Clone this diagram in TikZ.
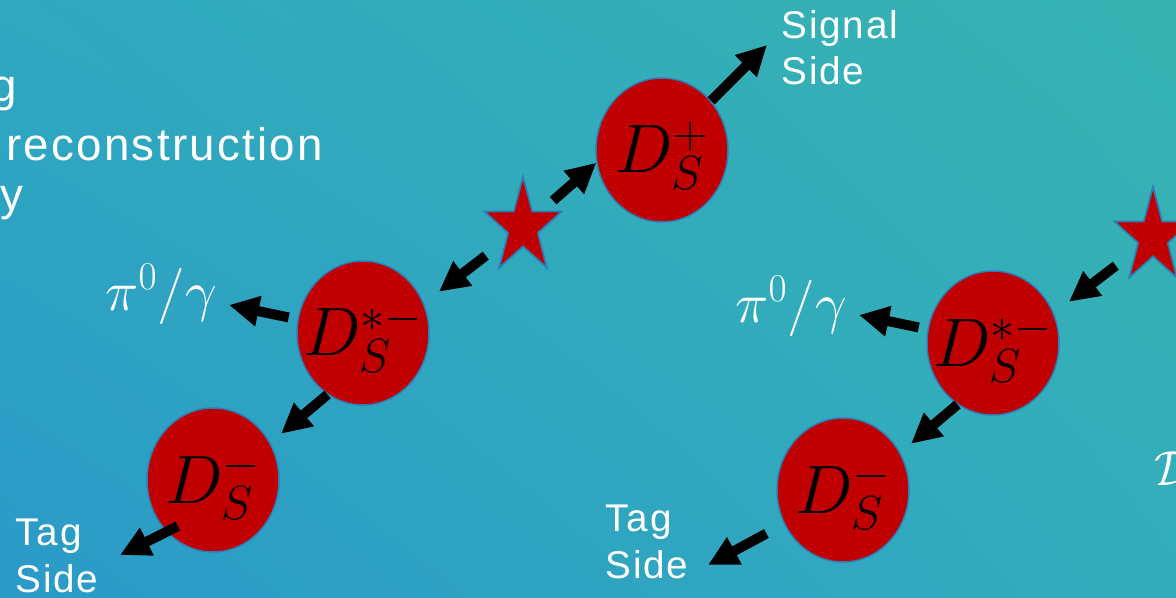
\RequirePackage{fix-cm}
\documentclass[tikz,border=0pt]{standalone}
\usepackage[no-math]{fontspec}
\newfontfamily\slidefont[LetterSpace=5]{Liberation Sans}
\usetikzlibrary{arrows.meta,shapes.geometric,shadings}
\definecolor{mesonred}{HTML}{C00000}
\definecolor{rimblue}{HTML}{2E7BB5}
\definecolor{bgUL}{HTML}{2FA8C0}
\definecolor{bgUR}{HTML}{37B4B1}
\definecolor{bgLL}{HTML}{2A9AC8}
\definecolor{bgLR}{HTML}{33ADBC}
\newcommand{\Dmeson}[1]{\smash{\raisebox{-0.46cm}{\makebox[0pt]{$D_S^{#1}$}}}}

\begin{document}
\begin{tikzpicture}[
  x=0.02cm, y=0.02cm,
  >={Triangle[length=0.6cm,width=0.58cm]},
  meson/.style={
    ellipse, draw=rimblue, line width=0.03cm, fill=mesonred,
    minimum width=2.64cm, minimum height=2.88cm, inner sep=0pt,
    font=\fontsize{39}{40}\selectfont
  },
  vertex/.style={
    star, star points=5, star point ratio=2.6,
    draw=rimblue, line width=0.035cm, fill=mesonred,
    minimum size=1.62cm, inner sep=0pt, yscale=1.24, transform shape
  },
  lbl/.style={
    text=white, align=left, inner sep=0pt, anchor=north west,
    font=\slidefont\fontsize{22}{26.5}\selectfont
  },
  body/.style={text=white, inner sep=0pt, font=\slidefont\fontsize{26}{30}\selectfont},
  photon/.style={text=white, inner sep=0pt, anchor=base west, font=\fontsize{32}{34}\selectfont},
  arr/.style={->, line width=0.2cm}
]
  \useasboundingbox (0,-598) rectangle (1176,0);
  \clip (0,-598) rectangle (1176,0);
  \shade[upper left=bgUL, upper right=bgUR, lower left=bgLL, lower right=bgLR]
    (0,-598) rectangle (1176,0);

  % slide text cut at the left edge
  \node[body, anchor=base east] (txtg) at (17,-102) {g};
  \node[body, anchor=base west] (txtreco) at (6,-160) {reconstruction};
  \node[body, anchor=base east] (txty) at (24,-210) {y};

  % left decay chain
  \node[vertex] (star1) at (523,-227) {};
  \node[meson] (dsp) at (662,-150) {\Dmeson{+}};
  \node[meson] (dsstl) at (363,-333) {\Dmeson{*-}};
  \node[meson] (dsl) at (213,-480) {\Dmeson{-}};

  \node[lbl] (sig) at (781,-10) {Signal\\Side};
  \node[lbl] (tagl) at (15,-519) {Tag\\Side};
  \node[photon] (pil) at (105,-310) {$\pi^0/\gamma$};

  % right decay chain
  \node[vertex] (star2) at (1153,-237) {};
  \node[meson] (dsstr) at (993,-343) {\Dmeson{*-}};
  \node[meson] (dsr) at (843,-490) {\Dmeson{-}};

  \node[lbl] (tagr) at (605,-505) {Tag\\Side};
  \node[photon] (pir) at (735,-322) {$\pi^0/\gamma$};
  \node[photon, font=\fontsize{28}{30}\selectfont] (calD) at (1154,-485) {$\mathcal{D}$};

  \coordinate (sigtip) at (767,-45);
  \coordinate (pitipl) at (229,-305);
  \coordinate (pitipr) at (859,-315);
  \coordinate (tagtipl) at (120,-555);
  \coordinate (tagtipr) at (708,-565);

  % arrows
  \draw[arr, shorten <=0.8cm] (star1.center) -- (dsp.191);
  \draw[arr] (dsp) -- (sigtip);
  \draw[arr, shorten <=0.94cm, shorten >=0.38cm] (star1.center) -- (dsstl.26);
  \draw[arr, shorten <=0.18cm] (dsstl) -- (pitipl);
  \draw[arr, shorten >=0.28cm] (dsstl.240) -- (dsl.33);
  \draw[arr, shorten <=-0.26cm] (dsl.228) -- (tagtipl);

  \draw[arr, shorten <=0.94cm, shorten >=0.38cm] (star2.center) -- (dsstr.26);
  \draw[arr, shorten <=0.18cm] (dsstr) -- (pitipr);
  \draw[arr, shorten >=0.28cm] (dsstr.240) -- (dsr.33);
  \draw[arr, shorten <=0.4cm] (dsr.210) -- (tagtipr);
\end{tikzpicture}
\end{document}
